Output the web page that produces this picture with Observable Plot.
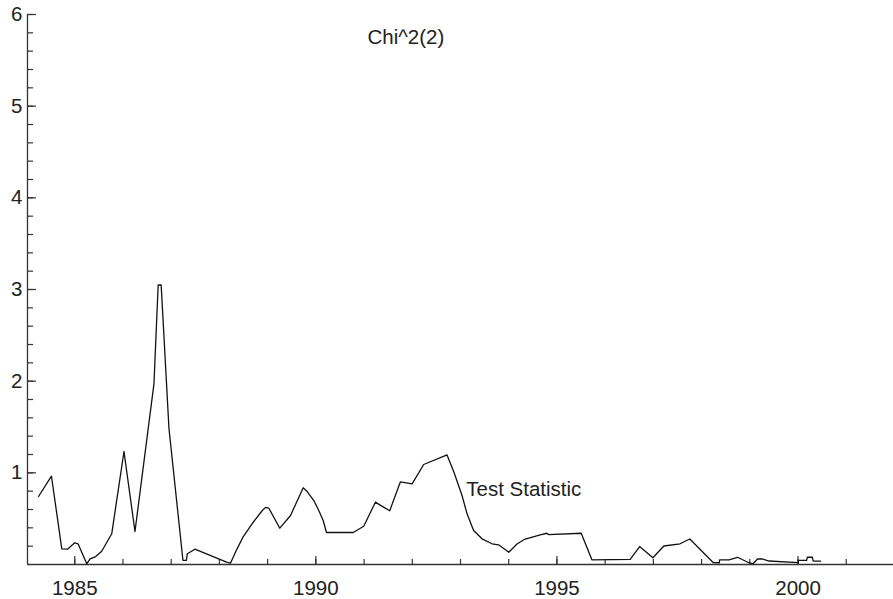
<!DOCTYPE html>
<html>
<head>
<meta charset="utf-8">
<script src="https://cdn.jsdelivr.net/npm/d3@7"></script>
<script src="https://cdn.jsdelivr.net/npm/@observablehq/plot@0.6"></script>
<style>
  html, body { margin: 0; padding: 0; background: #fff; }
</style>
</head>
<body>
<div id="chart"></div>
<script>
const years = [
  1984.248, 1984.517, 1984.731, 1984.849, 1985.000, 1985.068, 1985.249, 1985.317, 1985.435, 1985.559,
  1985.767, 1986.021, 1986.249, 1986.643, 1986.730, 1986.792, 1986.954, 1987.244, 1987.314, 1987.335,
  1987.492, 1988.149, 1988.232, 1988.356, 1988.495, 1988.702, 1988.889, 1988.957, 1989.025, 1989.253,
  1989.475, 1989.738, 1989.821, 1989.958, 1990.061, 1990.152, 1990.221, 1990.774, 1990.993, 1991.236,
  1991.325, 1991.532, 1991.754, 1991.996, 1992.237, 1992.721, 1992.866, 1993.032, 1993.136, 1993.272,
  1993.446, 1993.654, 1993.790, 1994.002, 1994.171, 1994.323, 1994.654, 1994.793, 1994.826, 1995.503,
  1995.725, 1996.519, 1996.715, 1996.991, 1997.217, 1997.554, 1997.755, 1998.244, 1998.369, 1998.373,
  1998.569, 1998.746, 1998.969, 1999.067, 1999.160, 1999.253, 1999.398, 2000.005, 2000.009, 2000.179,
  2000.192, 2000.295, 2000.316, 2000.469
];
const values = [
  0.742, 0.963, 0.171, 0.167, 0.237, 0.226, 0.008, 0.062, 0.087, 0.145,
  0.335, 1.233, 0.360, 1.974, 3.049, 3.049, 1.484, 0.044, 0.044, 0.117,
  0.167, 0.025, 0.016, 0.160, 0.305, 0.461, 0.589, 0.622, 0.614, 0.396,
  0.535, 0.837, 0.796, 0.698, 0.589, 0.480, 0.349, 0.349, 0.418, 0.680,
  0.651, 0.586, 0.902, 0.880, 1.091, 1.195, 1.004, 0.753, 0.553, 0.371,
  0.280, 0.226, 0.215, 0.134, 0.224, 0.273, 0.324, 0.341, 0.327, 0.341,
  0.051, 0.055, 0.196, 0.073, 0.202, 0.226, 0.278, 0.020, 0.019, 0.051,
  0.051, 0.079, 0.022, 0.008, 0.060, 0.062, 0.038, 0.020, 0.046, 0.046,
  0.079, 0.079, 0.036, 0.036
];
const xTickLabels = [1985, 1990, 1995, 2000];
const xMinorTicks = [1985, 1986, 1987, 1988, 1989, 1990, 1991, 1992, 1993, 1994, 1995, 1996, 1997, 1998, 1999, 2000, 2001];
const yTickLabels = [1, 2, 3, 4, 5, 6];
const yMinorTicks = d3.range(1, 31).map(i => +(i * 0.2).toFixed(1));
const title = "Chi^2(2)";
const seriesLabel = "Test Statistic";

const data = years.map((t, i) => ({t, v: values[i]}));

const W = 893, H = 599;
const mL = 27, mR = 0, mT = 14, mB = 35;
const xDomain = [1984.02, 2001.98];
const plotW = W - mL - mR, plotH = H - mT - mB;
const axisColor = "#333";
const fs = 20.5;

const chart = Plot.plot({
  width: W,
  height: H,
  marginLeft: mL,
  marginRight: mR,
  marginTop: mT,
  marginBottom: mB,
  style: {fontFamily: "'Liberation Sans', Arial, sans-serif", fontSize: fs + "px", background: "#fff", color: "#222"},
  x: {domain: xDomain, label: null},
  y: {domain: [0, 6], label: null},
  marks: [
    // axis lines
    Plot.ruleY([0], {stroke: axisColor, strokeWidth: 1.3}),
    Plot.ruleX([xDomain[0]], {y1: 0, y2: 6, stroke: axisColor, strokeWidth: 1.3}),
    // x ticks (pointing up)
    Plot.ruleX(xMinorTicks, {stroke: axisColor, strokeWidth: 1.2, insetTop: plotH - 5}),
    Plot.ruleX(xTickLabels, {stroke: axisColor, strokeWidth: 1.2, insetTop: plotH - 8}),
    // y ticks (pointing right)
    Plot.ruleY(yMinorTicks, {stroke: axisColor, strokeWidth: 1.2, insetRight: plotW - 6}),
    Plot.ruleY(yTickLabels, {stroke: axisColor, strokeWidth: 1.2, insetRight: plotW - 9}),
    Plot.axisX({ticks: xTickLabels, tickSize: 0, tickPadding: 16, tickFormat: d => String(d), fontSize: fs, label: null}),
    Plot.axisY({ticks: yTickLabels, tickSize: 0, tickPadding: 5, tickFormat: d => String(d), fontSize: fs, label: null}),
    // series
    Plot.line(data, {x: "t", y: "v", stroke: "#111", strokeWidth: 1.3}),
    Plot.text([title], {x: 1991.07, y: 5.68, text: d => d, textAnchor: "start", lineAnchor: "bottom", fontSize: fs, fill: "#222"}),
    Plot.text([seriesLabel], {x: 1993.12, y: 0.742, text: d => d, textAnchor: "start", lineAnchor: "bottom", fontSize: fs, fill: "#222"})
  ]
});
document.getElementById("chart").appendChild(chart);
</script>
</body>
</html>
